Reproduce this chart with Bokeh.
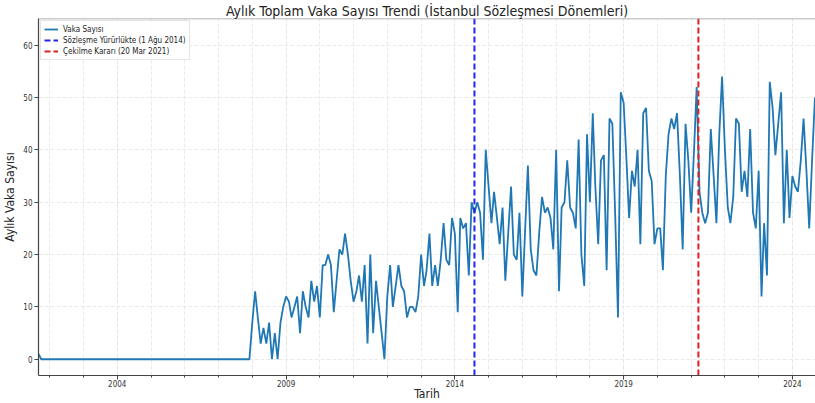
from datetime import datetime
import pandas as pd
from bokeh.plotting import figure
from bokeh.models import (FixedTicker, DatetimeTickFormatter, Span, Legend,
                          LegendItem, Range1d, ColumnDataSource)
from bokeh.embed import file_html
from bokeh.resources import INLINE

# ---------------- data (monthly case counts, first month 2001-09) ----------------
first_month = "2001-09-01"
vaka_2001 = [1, 0, 0, 0]
vaka_2002 = [0, 0, 0, 0, 0, 0, 0, 0, 0, 0, 0, 0]
vaka_2003 = [0, 0, 0, 0, 0, 0, 0, 0, 0, 0, 0, 0]
vaka_2004 = [0, 0, 0, 0, 0, 0, 0, 0, 0, 0, 0, 0]
vaka_2005 = [0, 0, 0, 0, 0, 0, 0, 0, 0, 0, 0, 0]
vaka_2006 = [0, 0, 0, 0, 0, 0, 0, 0, 0, 0, 0, 0]
vaka_2007 = [0, 0, 0, 0, 0, 0, 0, 0, 0, 0, 0, 0]
vaka_2008 = [7, 13, 8, 3, 6, 3, 7, 0, 5, 0, 7, 10]
vaka_2009 = [12, 11, 8, 10, 12, 5, 13, 10, 8, 15, 11, 14]
vaka_2010 = [8, 18, 18, 20, 18, 9, 15, 21, 20, 24, 20, 15]
vaka_2011 = [11, 13, 16, 11, 18, 3, 20, 5, 15, 10, 5, 0]
vaka_2012 = [12, 18, 10, 14, 18, 14, 13, 8, 10, 10, 9, 12]
vaka_2013 = [20, 14, 17, 24, 14, 18, 14, 19, 26, 19, 18, 27]
vaka_2014 = [24, 9, 27, 25, 26, 16, 30, 28, 30, 28, 19, 40]
vaka_2015 = [33, 26, 32, 27, 22, 29, 15, 24, 33, 20, 19, 28]
vaka_2016 = [12, 25, 37, 21, 17, 16, 24, 31, 28, 29, 27, 21]
vaka_2017 = [40, 13, 29, 30, 38, 29, 28, 25, 42, 20, 14, 43]
vaka_2018 = [30, 47, 33, 22, 38, 39, 17, 46, 45, 28, 8, 51]
vaka_2019 = [49, 38, 27, 36, 33, 40, 22, 47, 48, 36, 34, 22]
vaka_2020 = [25, 25, 17, 35, 43, 46, 44, 47, 35, 21, 45, 38]
vaka_2021 = [28, 40, 52, 32, 28, 26, 28, 44, 35, 26, 43, 54]
vaka_2022 = [40, 29, 26, 31, 46, 45, 32, 36, 31, 44, 28, 25]
vaka_2023 = [36, 12, 26, 16, 53, 48, 39, 45, 51, 26, 40, 27]
vaka_2024 = [35, 33, 32, 38, 46, 36, 25, 38, 50]

sozlesme_tarihi = datetime(2014, 8, 1)
cekilme_tarihi = datetime(2021, 3, 20)

major_tick_years = [2004, 2009, 2014, 2019, 2024]
minor_tick_years = list(range(2002, 2025))
y_tick_values = [0, 10, 20, 30, 40, 50, 60]

title_text = "Aylık Toplam Vaka Sayısı Trendi (İstanbul Sözleşmesi Dönemleri)"
x_label = "Tarih"
y_label = "Aylık Vaka Sayısı"
legend_labels = ["Vaka Sayısı", "Sözleşme Yürürlükte (1 Ağu 2014)",
                 "Çekilme Kararı (20 Mar 2021)"]

x_start = datetime(2001, 9, 1)
x_end = datetime(2024, 9, 7)
y_min, y_max = -3.1, 65.1

# ---------------- build ----------------
values = (vaka_2001 + vaka_2002 + vaka_2003 + vaka_2004 + vaka_2005 + vaka_2006 +
          vaka_2007 + vaka_2008 + vaka_2009 + vaka_2010 + vaka_2011 + vaka_2012 +
          vaka_2013 + vaka_2014 + vaka_2015 + vaka_2016 + vaka_2017 + vaka_2018 +
          vaka_2019 + vaka_2020 + vaka_2021 + vaka_2022 + vaka_2023 + vaka_2024)
dates = pd.date_range(first_month, periods=len(values), freq="MS")
src = ColumnDataSource(dict(x=dates, y=values))

FONT = "Liberation Sans Narrow, DejaVu Sans Condensed, Liberation Sans"


def ms(y):
    return pd.Timestamp(f"{y}-01-01").value // 10**6


p = figure(width=815, height=403, x_axis_type="datetime",
           output_backend="svg", toolbar_location=None,
           x_range=Range1d(x_start, x_end), y_range=Range1d(y_min, y_max),
           min_border_left=0, min_border_right=0, min_border_top=0,
           min_border_bottom=0)
p.outline_line_color = None
p.background_fill_color = "white"
p.border_fill_color = "white"

p.title.text = title_text
p.title.align = "center"
p.title.text_font = FONT
p.title.text_font_size = "14px"
p.title.text_font_style = "normal"
p.title.text_color = "#222222"
p.title.offset = 0
p.title.standoff = 0

blue = p.line("x", "y", source=src, line_color="#1f77b4", line_width=1.8)
r1 = p.line([sozlesme_tarihi, sozlesme_tarihi], [y_min, y_max],
            line_color="#2424ee", line_width=2, line_dash="6 3")
r2 = p.line([cekilme_tarihi, cekilme_tarihi], [y_min, y_max],
            line_color="#e02020", line_width=2, line_dash="6 3")

# top spine
p.add_layout(Span(location=y_max, dimension="width", line_color="#9a9a9a",
                  line_width=1.5))

# axes
xa = p.xaxis[0]
xa.ticker = FixedTicker(ticks=[ms(y) for y in major_tick_years],
                        minor_ticks=[ms(y) for y in minor_tick_years])
xa.formatter = DatetimeTickFormatter(years="%Y", months="%Y", days="%Y",
                                     hours="%Y", minutes="%Y", seconds="%Y",
                                     milliseconds="%Y")
ya = p.yaxis[0]
ya.ticker = FixedTicker(ticks=y_tick_values, minor_ticks=[])

for ax in (xa, ya):
    ax.axis_line_color = "#444444"
    ax.axis_line_width = 1.2
    ax.major_tick_line_color = "#444444"
    ax.major_tick_out = 4
    ax.major_tick_in = 0
    ax.minor_tick_line_color = "#444444"
    ax.minor_tick_out = 2
    ax.minor_tick_in = 0
    ax.major_label_text_font = FONT
    ax.major_label_text_font_size = "8px"
    ax.major_label_text_color = "#333333"
    ax.axis_label_text_font = FONT
    ax.axis_label_text_font_style = "normal"
    ax.axis_label_text_color = "#222222"
ya.major_label_standoff = 2
ya.axis_label_standoff = 3
xa.major_label_standoff = 0
xa.axis_label_standoff = -3
ya.minor_tick_line_color = None
xa.axis_label = x_label
ya.axis_label = y_label
xa.axis_label_text_font_size = "12px"
ya.axis_label_text_font_size = "12px"

# grid
p.xgrid.grid_line_color = "#e4e4e4"
p.xgrid.grid_line_dash = "4 2"
p.xgrid.grid_line_width = 0.8
p.xgrid.minor_grid_line_color = "#e4e4e4"
p.xgrid.minor_grid_line_dash = "4 2"
p.xgrid.minor_grid_line_width = 0.8
p.ygrid.grid_line_color = "#e4e4e4"
p.ygrid.grid_line_dash = "4 2"
p.ygrid.grid_line_width = 0.8

legend = Legend(items=[LegendItem(label=legend_labels[0], renderers=[blue]),
                       LegendItem(label=legend_labels[1], renderers=[r1]),
                       LegendItem(label=legend_labels[2], renderers=[r2])],
                location="top_left", margin=2, padding=3, spacing=1,
                label_height=10, glyph_height=10, glyph_width=14,
                label_standoff=5, label_text_font=FONT,
                label_text_font_size="8px", label_text_color="#222222",
                border_line_color="#cccccc", background_fill_alpha=0.85)
p.add_layout(legend)

open("out.html", "w").write(file_html(p, INLINE))
